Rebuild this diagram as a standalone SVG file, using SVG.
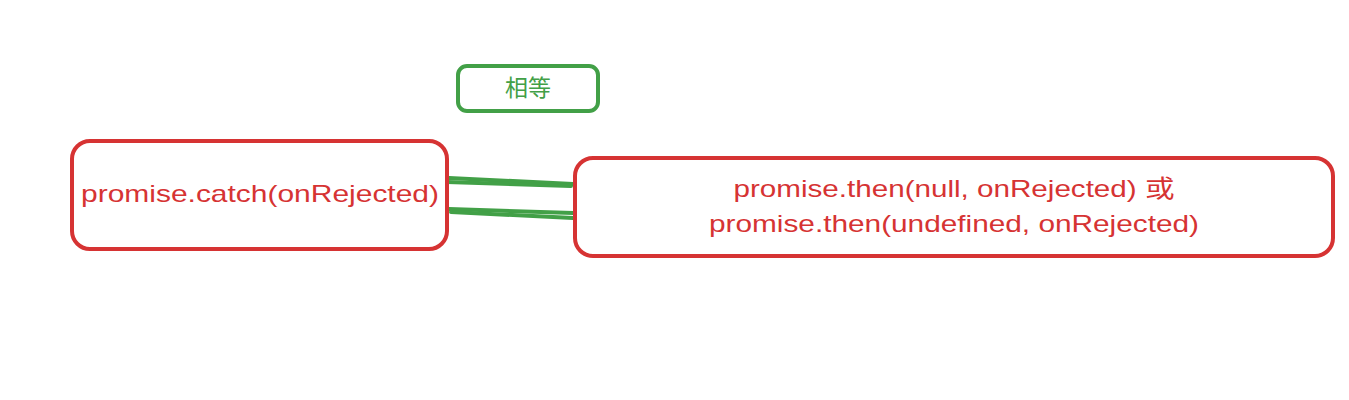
<svg xmlns="http://www.w3.org/2000/svg" width="1349" height="400" viewBox="0 0 1349 400">
<style>
.red{fill:#fff;stroke:#d63333;stroke-width:4;stroke-linecap:round}
.redt{fill:#d63333;font-family:"Liberation Sans","Noto Sans CJK SC",sans-serif;font-size:24px;text-anchor:middle}
.grn{fill:#fff;stroke:#42a047;stroke-width:4}
.grnt{fill:#42a047;font-family:"Noto Sans CJK SC",sans-serif;font-size:23px;text-anchor:middle}
.ln{fill:none;stroke:#42a047;stroke-width:4;stroke-linecap:round}
</style>
<rect width="1349" height="400" fill="#fff"/>
<g id="connectors">
<path class="ln" d="M449 178 L573 184"/>
<path class="ln" d="M447 182 L571 186"/>
<path class="ln" d="M449 209 L573 213"/>
<path class="ln" d="M451 212 L573 218"/>
</g>
<g id="equal">
<rect class="grn" x="458" y="66" width="140" height="45" rx="9"/>
<text class="grnt" x="528" y="96">相等</text>
</g>
<g id="catch">
<rect class="red" x="72" y="141" width="375" height="108" rx="18"/>
<text class="redt" x="260" y="202" textLength="358" lengthAdjust="spacingAndGlyphs">promise.catch(onRejected)</text>
</g>
<g id="then">
<rect class="red" x="575" y="158" width="758" height="98" rx="18"/>
<text class="redt" x="954" y="197" textLength="441" lengthAdjust="spacingAndGlyphs">promise.then(null, onRejected) 或</text>
<text class="redt" x="954" y="232" textLength="490" lengthAdjust="spacingAndGlyphs">promise.then(undefined, onRejected)</text>
</g>
</svg>
